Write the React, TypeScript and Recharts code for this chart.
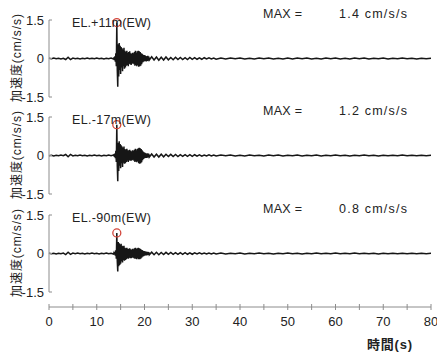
import React from 'react';
import { LineChart, Line, XAxis, YAxis, ReferenceDot } from 'recharts';

// time (s)
const times = [
  0, 0.5, 1, 1.5, 2, 2.5, 3, 3.5, 4, 4.5, 5, 5.5, 6, 6.5, 7, 7.5, 8, 8.5, 9, 9.5, 10, 10.5, 11, 11.5, 12, 12.5, 13, 13.5,
  13.6, 13.7, 13.8, 13.9,
  14.0, 14.1, 14.2, 14.3, 14.4, 14.5, 14.6, 14.7, 14.8, 14.9,
  15.0, 15.1, 15.2, 15.3, 15.4, 15.5, 15.6, 15.7, 15.8, 15.9,
  16.0, 16.1, 16.2, 16.3, 16.4, 16.5, 16.6, 16.7, 16.8, 16.9,
  17.0, 17.1, 17.2, 17.3, 17.4, 17.5, 17.6, 17.7, 17.8, 17.9,
  18.0, 18.1, 18.2, 18.3, 18.4, 18.5, 18.6, 18.7, 18.8, 18.9,
  19.0, 19.1, 19.2, 19.3, 19.4, 19.5, 19.6, 19.7, 19.8, 19.9,
  20.0, 20.1, 20.2, 20.3, 20.4, 20.5, 20.6, 20.7, 20.8, 20.9,
  21.0,
  21.5, 22, 22.5, 23, 23.5, 24, 24.5, 25, 25.5, 26, 26.5, 27, 27.5, 28, 28.5, 29, 29.5, 30, 30.5, 31, 31.5, 32, 32.5, 33, 33.5, 34, 34.5, 35,
  36, 37, 38, 39, 40, 41, 42, 43, 44, 45, 46, 47, 48, 49, 50, 51, 52, 53, 54, 55, 56, 57, 58, 59, 60,
  61, 62, 63, 64, 65, 66, 67, 68, 69, 70, 71, 72, 73, 74, 75, 76, 77, 78, 79, 80,
];

// EL.+11m (EW) acceleration (cm/s/s)
const accelTop = [
  0.01, -0.01, 0.015, -0.01, 0.01, -0.015, 0.01, -0.04, 0.05, -0.04, 0.015, -0.01, 0.01, -0.015, 0.01, -0.01, 0.015, -0.01, 0.01, -0.01, 0.015, -0.01, 0.01, -0.015, 0.01, -0.01, 0.015, -0.02,
  0.04, -0.06, 0.08, -0.12,
  0.2, -0.3, 1.4, -0.45, -1.1, 0.55, -0.7, 0.6, -0.45, 0.5,
  -0.6, 0.45, -0.35, 0.4, -0.5, 0.35, -0.3, 0.42, -0.4, 0.3,
  -0.35, 0.25, -0.28, 0.3, -0.25, 0.22, -0.3, 0.25, -0.2, 0.28,
  -0.22, 0.2, -0.25, 0.18, -0.2, 0.22, -0.18, 0.2, -0.22, 0.25,
  -0.28, 0.3, -0.25, 0.22, -0.3, 0.28, -0.25, 0.3, -0.32, 0.28,
  -0.3, 0.25, -0.28, 0.2, -0.22, 0.18, -0.15, 0.14, -0.12, 0.13,
  -0.1, 0.12, -0.1, 0.09, -0.11, 0.08, -0.09, 0.1, -0.08, 0.07,
  -0.06,
  0.07, -0.06, 0.06, -0.07, 0.05, -0.06, 0.06, -0.05, 0.04, -0.05, 0.05, -0.04, 0.04, -0.04, 0.03, -0.04, 0.04, -0.03, 0.03, -0.03, 0.025, -0.03, 0.03, -0.02, 0.025, -0.02, 0.02, -0.025,
  0.015, -0.015, 0.02, -0.01, 0.015, -0.02, 0.01, -0.015, 0.015, -0.01, 0.02, -0.015, 0.01, -0.015, 0.015, -0.02, 0.015, -0.01, 0.015, -0.015, 0.01, -0.015, 0.02, -0.01, 0.015,
  -0.015, 0.01, -0.015, 0.015, -0.01, 0.015, -0.015, 0.01, -0.01, 0.015, -0.015, 0.01, -0.01, 0.015, -0.01, 0.01, -0.015, 0.01, -0.01, 0.005,
];

// EL.-17m (EW)
const accelMid = [
  -0.01, 0.01, -0.015, 0.01, -0.01, 0.015, -0.01, 0.04, -0.05, 0.04, -0.015, 0.01, -0.01, 0.015, -0.01, 0.01, -0.015, 0.01, -0.01, 0.015, -0.01, 0.01, -0.015, 0.01, -0.01, 0.015, -0.01, 0.02,
  0.03, -0.05, 0.07, -0.1,
  0.18, -0.25, 1.2, -0.4, -1.0, 0.5, -0.6, 0.55, -0.4, 0.45,
  -0.5, 0.4, -0.3, 0.35, -0.45, 0.3, -0.28, 0.35, -0.32, 0.25,
  -0.3, 0.22, -0.25, 0.26, -0.2, 0.2, -0.25, 0.2, -0.18, 0.22,
  -0.2, 0.18, -0.2, 0.15, -0.18, 0.2, -0.16, 0.18, -0.2, 0.22,
  -0.25, 0.26, -0.22, 0.2, -0.26, 0.25, -0.22, 0.28, -0.3, 0.3,
  -0.32, 0.28, -0.3, 0.25, -0.26, 0.2, -0.18, 0.15, -0.13, 0.12,
  -0.1, 0.1, -0.09, 0.08, -0.09, 0.07, -0.08, 0.08, -0.07, 0.06,
  -0.06,
  0.06, -0.06, 0.05, -0.06, 0.05, -0.05, 0.05, -0.04, 0.045, -0.04, 0.04, -0.04, 0.035, -0.03, 0.035, -0.03, 0.03, -0.03, 0.03, -0.025, 0.025, -0.025, 0.02, -0.02, 0.025, -0.02, 0.02, -0.02,
  0.015, -0.01, 0.015, -0.015, 0.01, -0.015, 0.015, -0.01, 0.01, -0.015, 0.015, -0.01, 0.015, -0.015, 0.01, -0.01, 0.015, -0.015, 0.01, -0.01, 0.015, -0.015, 0.01, -0.01, 0.015,
  -0.01, 0.01, -0.015, 0.01, -0.01, 0.015, -0.01, 0.01, -0.015, 0.01, -0.01, 0.01, -0.01, 0.015, -0.01, 0.01, -0.01, 0.01, -0.005, 0.005,
];

// EL.-90m (EW)
const accelBottom = [
  0.01, -0.01, 0.01, -0.015, 0.01, -0.01, 0.015, -0.04, 0.05, -0.035, 0.015, -0.01, 0.015, -0.01, 0.01, -0.015, 0.01, -0.01, 0.015, -0.01, 0.01, -0.015, 0.01, -0.01, 0.015, -0.01, 0.01, -0.02,
  0.03, -0.04, 0.05, -0.08,
  0.12, -0.2, 0.8, -0.3, -0.7, 0.45, -0.5, 0.4, -0.45, 0.35,
  -0.4, 0.38, -0.3, 0.3, -0.35, 0.28, -0.25, 0.3, -0.28, 0.22,
  -0.25, 0.2, -0.22, 0.22, -0.18, 0.18, -0.2, 0.18, -0.16, 0.2,
  -0.18, 0.16, -0.18, 0.14, -0.16, 0.18, -0.15, 0.16, -0.18, 0.2,
  -0.2, 0.22, -0.2, 0.18, -0.22, 0.2, -0.18, 0.22, -0.22, 0.2,
  -0.22, 0.18, -0.2, 0.15, -0.16, 0.13, -0.12, 0.1, -0.1, 0.09,
  -0.08, 0.08, -0.07, 0.07, -0.07, 0.06, -0.06, 0.06, -0.05, 0.05,
  -0.05,
  0.05, -0.05, 0.045, -0.05, 0.04, -0.04, 0.045, -0.035, 0.04, -0.035, 0.03, -0.035, 0.035, -0.03, 0.03, -0.03, 0.025, -0.03, 0.025, -0.02, 0.025, -0.02, 0.02, -0.02, 0.02, -0.02, 0.02, -0.015,
  0.015, -0.015, 0.01, -0.01, 0.015, -0.015, 0.01, -0.01, 0.015, -0.01, 0.01, -0.015, 0.01, -0.01, 0.015, -0.01, 0.01, -0.015, 0.01, -0.01, 0.015, -0.01, 0.01, -0.01, 0.015,
  -0.01, 0.01, -0.01, 0.015, -0.01, 0.01, -0.01, 0.01, -0.015, 0.01, -0.01, 0.01, -0.01, 0.01, -0.01, 0.01, -0.005, 0.01, -0.005, 0.005,
];

const panelLabels = ['EL.+11m(EW)', 'EL.-17m(EW)', 'EL.-90m(EW)'];
const maxLabels = ['1.4 cm/s/s', '1.2 cm/s/s', '0.8 cm/s/s'];
const maxValues = [1.4, 1.2, 0.8];
const peakTime = 14.2;
const yTicks = [-1.5, 0, 1.5];
const xTicks = [0, 5, 10, 15, 20, 25, 30, 35, 40, 45, 50, 55, 60, 65, 70, 75, 80];
const yTitle = '加速度(cm/s/s)';
const xTitle = '時間(s)';

const series = [accelTop, accelMid, accelBottom];
const data = times.map((t, i) => ({
  t,
  p0: accelTop[i] ?? 0,
  p1: accelMid[i] ?? 0,
  p2: accelBottom[i] ?? 0,
}));

const FONT = "'Liberation Sans', Arial, 'Noto Sans CJK JP', sans-serif";
const AXIS = '#8c8c8c';
const TEXT = '#222';

const YTick = (props: any) => {
  const { x, y, payload } = props;
  return (
    <g>
      <line x1={x} y1={y} x2={x + 3} y2={y} stroke={AXIS} strokeWidth={1} />
      <text x={x - 5} y={y + 4.5} textAnchor="end" fontSize={13} fill={TEXT} fontFamily={FONT}>
        {payload.value === 0 ? '0' : payload.value.toFixed(1)}
      </text>
    </g>
  );
};

const XTick = (props: any) => {
  const { x, y, payload } = props;
  const major = payload.value % 10 === 0;
  return (
    <g>
      <line x1={x} y1={y - 3} x2={x} y2={y + 3} stroke={AXIS} strokeWidth={1} />
      {major && (
        <text x={x} y={y + 19} textAnchor="middle" fontSize={13} fill={TEXT} fontFamily={FONT}>
          {payload.value}
        </text>
      )}
    </g>
  );
};

const panelTops = [20, 117, 215];
const PLOT_H = 77;
const PAD = 10;

export default function App() {
  return (
    <div style={{ position: 'absolute', left: 0, top: 0, width: 437, height: 354, background: '#fff', overflow: 'hidden' }}>
      {series.map((_, k) => (
        <div key={k} style={{ position: 'absolute', left: 0, top: panelTops[k] - PAD }}>
          <LineChart width={437} height={PLOT_H + 2 * PAD} data={data} margin={{ top: PAD, right: 6, bottom: PAD, left: 0 }}>
            <XAxis dataKey="t" type="number" domain={[0, 80]} hide />
            <YAxis
              type="number"
              domain={[-1.5, 1.5]}
              ticks={yTicks}
              width={49}
              tick={<YTick />}
              tickLine={false}
              tickSize={0}
              tickMargin={0}
              axisLine={{ stroke: AXIS, strokeWidth: 1 }}
              interval={0}
            />
            <Line
              type="linear"
              dataKey={`p${k}`}
              stroke="#161616"
              strokeWidth={1.5}
              dot={false}
              isAnimationActive={false}
            />
            <ReferenceDot x={peakTime} y={maxValues[k]} r={4} fill="none" stroke="#d2463c" strokeWidth={1.3} />
          </LineChart>
        </div>
      ))}
      <div style={{ position: 'absolute', left: 0, top: 297 }}>
        <LineChart width={437} height={50} data={data} margin={{ top: 0, right: 6, bottom: 0, left: 49 }}>
          <XAxis
            dataKey="t"
            type="number"
            domain={[0, 80]}
            ticks={xTicks}
            interval={0}
            height={40}
            tick={<XTick />}
            tickLine={false}
            tickSize={0}
            tickMargin={0}
            axisLine={{ stroke: AXIS, strokeWidth: 1 }}
          />
          <YAxis hide domain={[-1.5, 1.5]} />
          <Line dataKey="p2" stroke="none" dot={false} isAnimationActive={false} />
        </LineChart>
      </div>
      <svg width={437} height={354} style={{ position: 'absolute', left: 0, top: 0, pointerEvents: 'none' }}>
        {panelTops.map((top, k) => (
          <g key={k}>
            <text x={72} y={top + 7} fontSize={12.5} fill={TEXT} fontFamily={FONT} textLength={79} lengthAdjust="spacing">
              {panelLabels[k]}
            </text>
            <text x={263} y={top - 2} fontSize={12.5} fill={TEXT} fontFamily={FONT} textLength={39} lengthAdjust="spacing">
              MAX =
            </text>
            <text x={339} y={top - 2} fontSize={12.5} fill={TEXT} fontFamily={FONT} textLength={68} lengthAdjust="spacing">
              {maxLabels[k]}
            </text>
            <text
              x={0}
              y={0}
              transform={`translate(21, ${top + 38}) rotate(-90)`}
              textAnchor="middle"
              fontSize={12}
              fill={TEXT}
              fontFamily={FONT}
              textLength={88}
              lengthAdjust="spacing"
            >
              {yTitle}
            </text>
          </g>
        ))}
        <text x={367} y={349} fontSize={13} fontWeight="bold" fill={TEXT} fontFamily={FONT} textLength={45} lengthAdjust="spacing">
          {xTitle}
        </text>
      </svg>
    </div>
  );
}
